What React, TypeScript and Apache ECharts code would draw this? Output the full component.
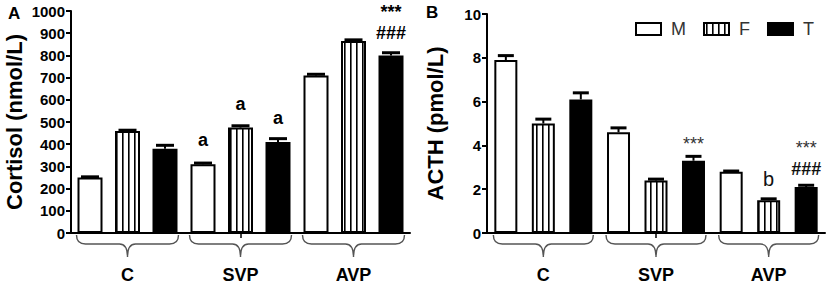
import React, { useEffect, useRef } from "react";
import * as echarts from "echarts";

const categories = ["C", "SVP", "AVP"];
const seriesNames = ["M", "F", "T"];

const cortisolM = [250, 310, 710];
const cortisolF = [460, 475, 865];
const cortisolT = [380, 410, 800];
const cortisolErrM = [3, 5, 5];
const cortisolErrF = [3, 8, 5];
const cortisolErrT = [15, 15, 12];
const cortisolNoteM = ["", "a", ""];
const cortisolNoteF = ["", "a", ""];
const cortisolNoteT = ["", "a", "{st|***}\n{hs|###}"];

const acthM = [7.9, 4.6, 2.8];
const acthF = [5.0, 2.4, 1.5];
const acthT = [6.1, 3.3, 2.1];
const acthErrM = [0.2, 0.2, 0.03];
const acthErrF = [0.2, 0.06, 0.06];
const acthErrT = [0.3, 0.2, 0.08];
const acthNoteM = ["", "", ""];
const acthNoteF = ["", "", "{b|b}"];
const acthNoteT = ["", "{st|***}", "{st|***}\n{hs|###}"];

const cortisolTicks = { min: 0, max: 1000, interval: 100 };
const acthTicks = { min: 0, max: 10, interval: 2 };

const FONT = "'Liberation Sans', Arial, Helvetica, sans-serif";

function makeStripePattern() {
  const c = document.createElement("canvas");
  c.width = 6;
  c.height = 6;
  const ctx = c.getContext("2d")!;
  ctx.fillStyle = "#fff";
  ctx.fillRect(0, 0, 6, 6);
  ctx.fillStyle = "#000";
  ctx.fillRect(2, 0, 1.6, 6);
  return { image: c, repeat: "repeat", imageWidth: 6, imageHeight: 6 };
}

export default function App() {
  const ref = useRef<HTMLDivElement>(null);
  useEffect(() => {
    if (!ref.current) return;
    const chart = echarts.init(ref.current, null, { renderer: "svg" });
    const stripes = makeStripePattern();
    const fills = ["#fff", stripes, "#000"];

    const panels = [
      {
        vals: [cortisolM, cortisolF, cortisolT],
        errs: [cortisolErrM, cortisolErrF, cortisolErrT],
        notes: [cortisolNoteM, cortisolNoteF, cortisolNoteT],
        barW: 25,
        gap: 0.5,
        cap: 18,
        rich: {
          st: { fontSize: 18, fontWeight: "bold", color: "#000", lineHeight: 21, fontFamily: FONT },
          hs: { fontSize: 18, fontWeight: "bold", color: "#000", lineHeight: 21, fontFamily: FONT },
        },
      },
      {
        vals: [acthM, acthF, acthT],
        errs: [acthErrM, acthErrF, acthErrT],
        notes: [acthNoteM, acthNoteF, acthNoteT],
        barW: 23,
        gap: 0.63,
        cap: 16,
        rich: {
          st: { fontSize: 18, fontWeight: "normal", color: "#333", lineHeight: 21, fontFamily: FONT },
          hs: { fontSize: 18, fontWeight: "bold", color: "#111", lineHeight: 21, fontFamily: FONT },
          b: { fontSize: 20, fontWeight: "normal", color: "#111", lineHeight: 20, fontFamily: FONT },
        },
      },
    ];

    const series: any[] = [];
    panels.forEach((p, pi) => {
      const step = p.barW * (1 + p.gap);
      seriesNames.forEach((name, si) => {
        const notes = p.notes[si];
        series.push({
          type: "bar",
          name,
          xAxisIndex: pi,
          yAxisIndex: pi,
          data: p.vals[si].map((v, di) => {
            let dist = 15;
            if (pi === 0) dist = si === 2 && di === 2 ? 12 : 15;
            else dist = si === 1 ? 11 : di === 2 ? 8 : 6;
            return { value: v, label: { distance: dist } };
          }),
          barWidth: p.barW,
          barGap: `${Math.round(p.gap * 100)}%`,
          itemStyle: { color: fills[si], borderColor: "#000", borderWidth: 2 },
          z: 2,
          label: {
            show: true,
            position: "top",
            formatter: (params: any) => notes[params.dataIndex] || "",
            fontFamily: FONT,
            fontSize: 18,
            fontWeight: pi === 0 ? "bold" : "normal",
            color: "#000",
            rich: p.rich,
          },
        });
        const offset = (si - 1) * step;
        series.push({
          type: "custom",
          name: `err${pi}${si}`,
          xAxisIndex: pi,
          yAxisIndex: pi,
          z: 3,
          clip: false,
          silent: true,
          encode: { x: 0, y: 1 },
          data: p.vals[si].map((v, di) => [di, v, p.errs[si][di]]),
          renderItem: (params: any, api: any) => {
            const cat = api.value(0);
            const mean = api.value(1);
            const err = api.value(2);
            const base = api.coord([cat, mean]);
            const top = api.coord([cat, mean + err]);
            const x = base[0] + offset;
            return {
              type: "group",
              children: [
                { type: "line", shape: { x1: x, y1: base[1], x2: x, y2: top[1] }, style: { stroke: "#000", lineWidth: 2 } },
                { type: "line", shape: { x1: x - p.cap / 2, y1: top[1], x2: x + p.cap / 2, y2: top[1] }, style: { stroke: "#000", lineWidth: 3 } },
              ],
            };
          },
        });
      });
      const halfW = step + p.barW / 2 + 1;
      series.push({
        type: "custom",
        name: `brace${pi}`,
        xAxisIndex: pi,
        yAxisIndex: pi,
        clip: false,
        silent: true,
        z: 1,
        encode: { x: 0, y: 1 },
        data: categories.map((_, i) => [i, 0]),
        renderItem: (params: any, api: any) => {
          const c = api.coord([api.value(0), 0]);
          const cx = c[0];
          const ay = c[1];
          const xl = cx - halfW;
          const xr = cx + halfW;
          const y0 = ay + 2;
          const y1 = ay + 11;
          const y2 = ay + 24;
          const d = `M ${xl} ${y0} Q ${xl} ${y1} ${xl + 9} ${y1} L ${cx - 8} ${y1} Q ${cx} ${y1} ${cx} ${y2} Q ${cx} ${y1} ${cx + 8} ${y1} L ${xr - 9} ${y1} Q ${xr} ${y1} ${xr} ${y0}`;
          return {
            type: "path",
            shape: { pathData: d },
            style: { fill: "none", stroke: "#555", lineWidth: 1.4 },
          };
        },
      });
    });

    const xAxisCommon = {
      type: "category",
      data: categories,
      axisLine: { lineStyle: { color: "#000", width: 2 } },
      axisTick: {
        show: true,
        alignWithLabel: true,
        interval: (i: number) => i === 1,
        length: 5,
        lineStyle: { color: "#000", width: 1.5 },
      },
      axisLabel: { fontFamily: FONT, fontSize: 18, fontWeight: "bold", color: "#000", margin: 33 },
      splitLine: { show: false },
    };
    const yAxisCommon = {
      type: "value",
      nameLocation: "middle",
      nameRotate: 90,
      nameTextStyle: { fontFamily: FONT, fontSize: 22, fontWeight: "bold", color: "#000" },
      axisLine: { show: true, lineStyle: { color: "#000", width: 2 } },
      axisTick: { show: true, length: 5, lineStyle: { color: "#000", width: 2 } },
      axisLabel: {
        fontFamily: FONT,
        fontSize: 15,
        fontWeight: "bold",
        color: "#000",
        margin: 6,
        formatter: (v: number) => String(v),
      },
      splitLine: { show: false },
    };

    chart.setOption({
      animation: false,
      backgroundColor: "#fff",
      textStyle: { fontFamily: FONT },
      grid: [
        { left: 71, top: 11, width: 339, height: 226 },
        { left: 487, top: 14, width: 338, height: 224 },
      ],
      xAxis: [
        { ...xAxisCommon, gridIndex: 0 },
        { ...xAxisCommon, gridIndex: 1 },
      ],
      yAxis: [
        { ...yAxisCommon, gridIndex: 0, name: "Cortisol (nmol/L)", nameGap: 46, ...cortisolTicks },
        { ...yAxisCommon, gridIndex: 1, name: "ACTH (pmol/L)", nameGap: 41, ...acthTicks },
      ],
      legend: {
        data: seriesNames,
        orient: "horizontal",
        left: 635,
        top: 20,
        width: 194,
        padding: 0,
        itemWidth: 25,
        itemHeight: 12,
        itemGap: 17,
        icon: "rect",
        itemStyle: { borderColor: "#000", borderWidth: 2 },
        textStyle: { fontFamily: FONT, fontSize: 18, color: "#333", padding: [0, 0, 0, 5] },
        selectedMode: false,
      },
      graphic: [
        { type: "text", left: 8, top: 5, style: { text: "A", font: `bold 17px ${FONT}`, fill: "#000" } },
        { type: "text", left: 426, top: 4, style: { text: "B", font: `bold 17px ${FONT}`, fill: "#000" } },
      ],
      series,
    });
    return () => chart.dispose();
  }, []);
  return <div ref={ref} style={{ position: "fixed", left: 0, top: 0, width: 829, height: 284 }} />;
}
